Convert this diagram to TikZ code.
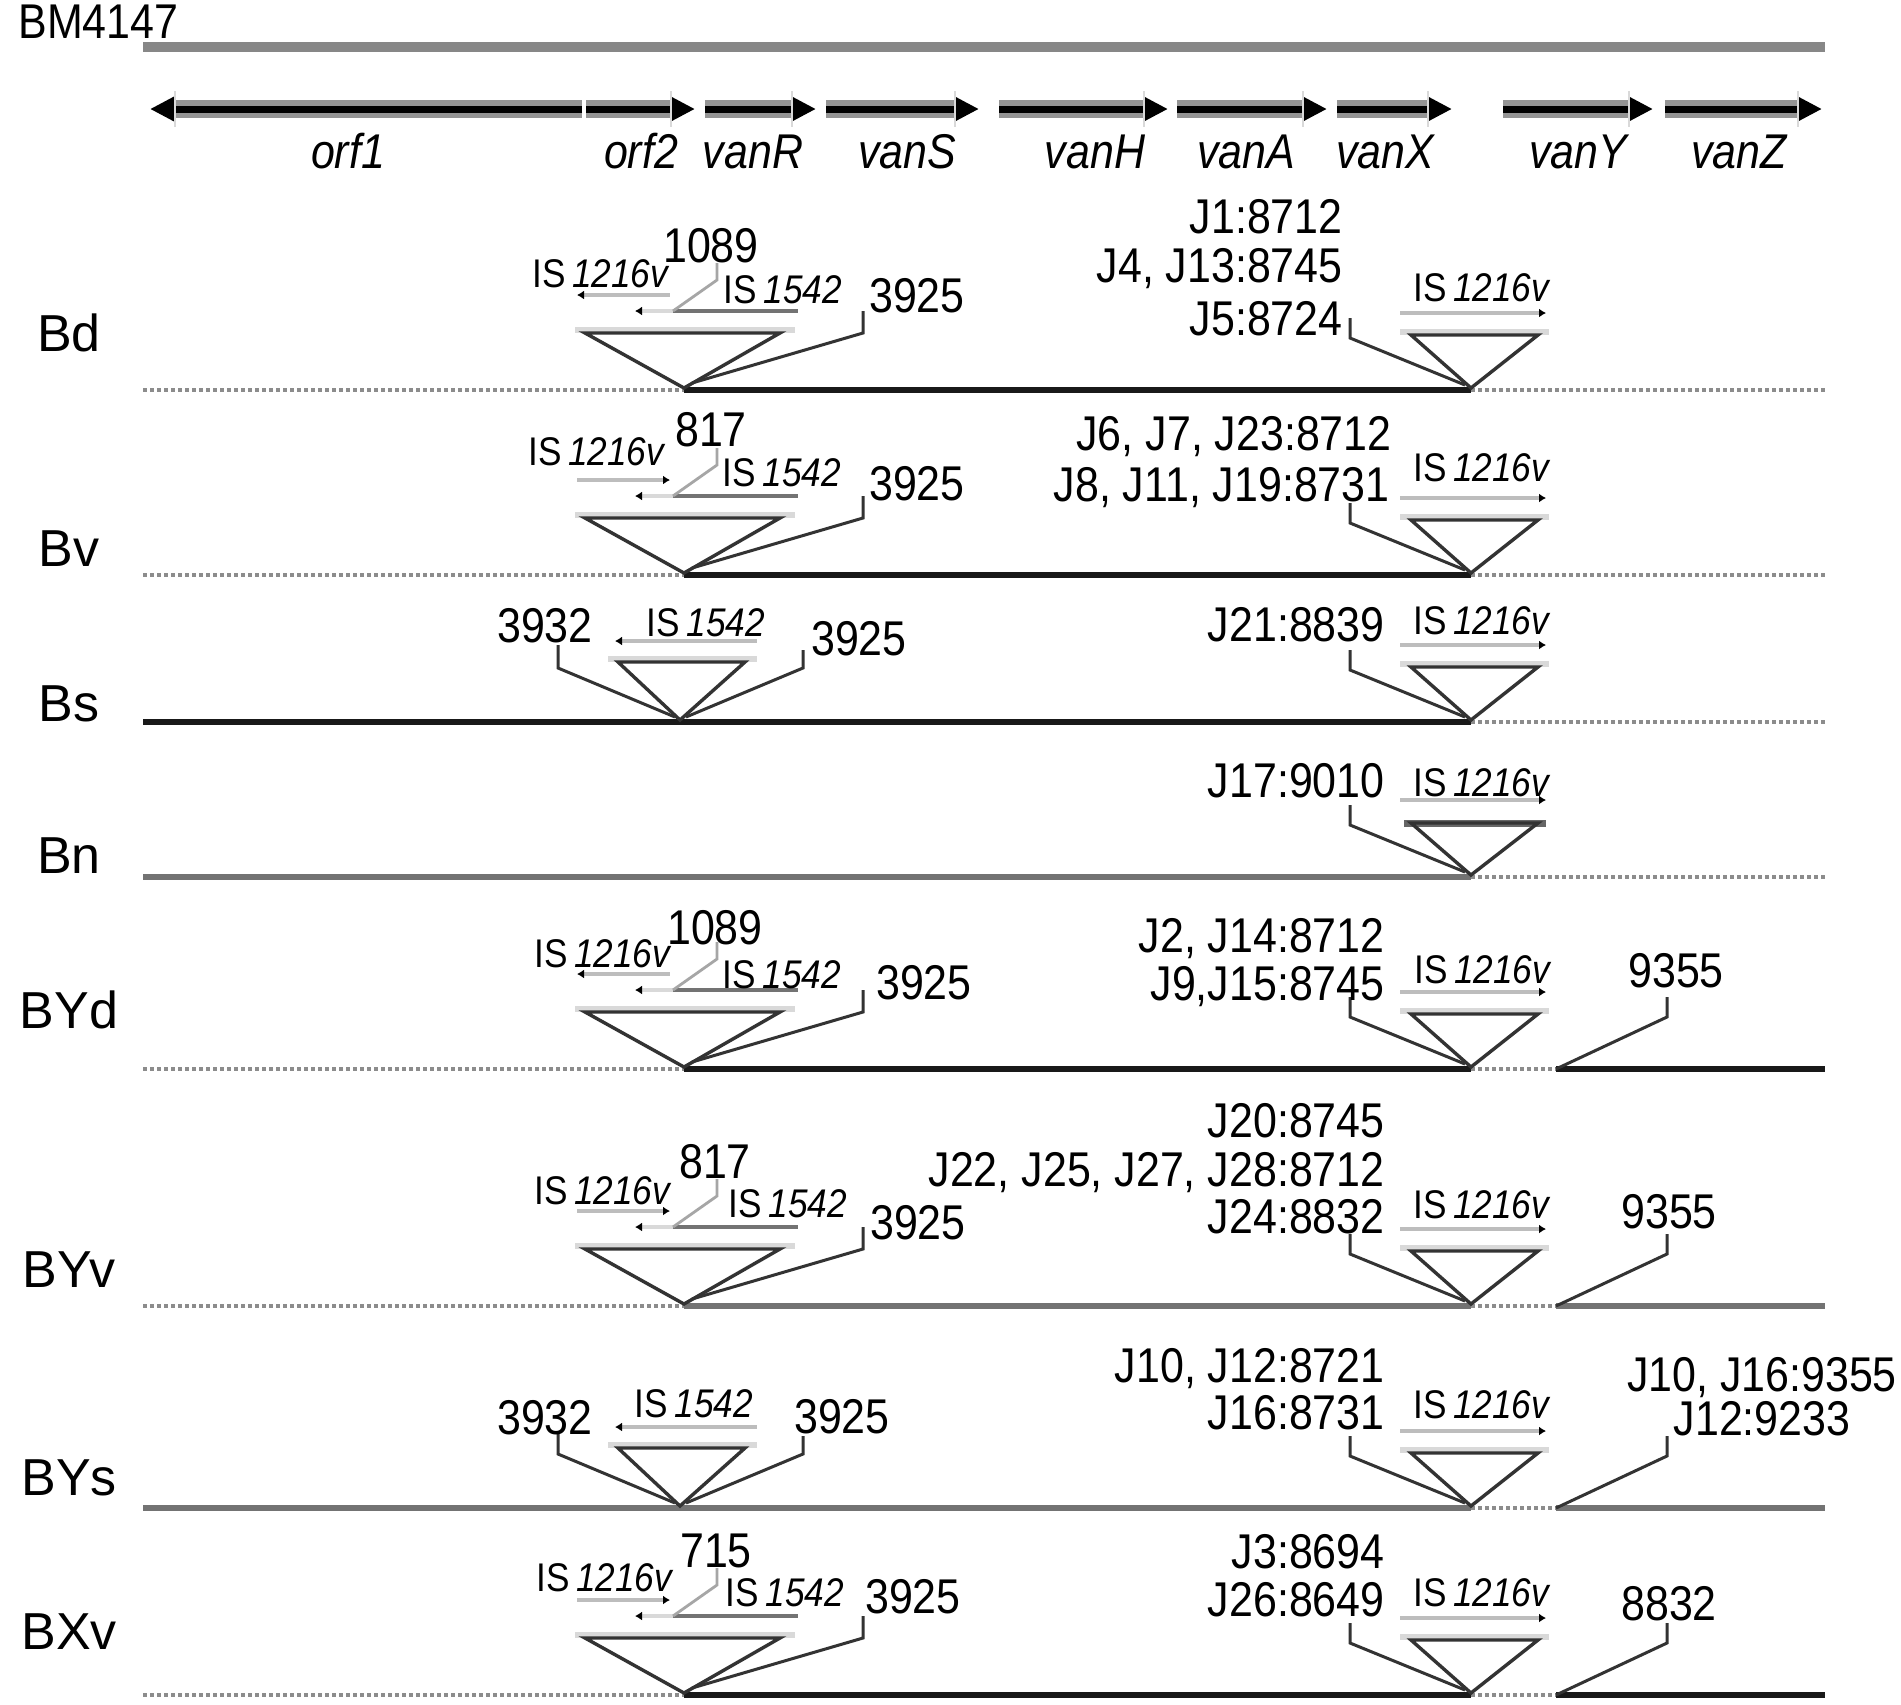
\documentclass[tikz,border=0pt]{standalone}
\usepackage{fontspec}
\setmainfont{Liberation Sans}[FakeStretch=0.88]
\newfontfamily\rowfont{Liberation Sans}
\usetikzlibrary{arrows.meta}
\definecolor{lgray}{gray}{0.74}
\definecolor{mgray}{gray}{0.45}
\definecolor{dgray}{gray}{0.2}
\definecolor{bargray}{gray}{0.53}
\tikzset{
  txt/.style={inner sep=0pt, anchor=base, font=\fontsize{24.4}{28}\selectfont},
  txtr/.style={txt, anchor=base east},
  istxt/.style={inner sep=0pt, anchor=base, font=\fontsize{20}{24}\selectfont},
  rowtxt/.style={inner sep=0pt, anchor=base, font=\rowfont\fontsize{26}{30}\selectfont},
  genetxt/.style={inner sep=0pt, anchor=base, font=\fontsize{24.4}{28}\selectfont\itshape},
  genearrow/.style={line width=3.5pt, black, -{Triangle[length=12.5pt,width=12pt]}},
  genehalo/.style={line width=9pt, black!42},
  genetick/.style={line width=1pt, gray!30},
  tri/.style={draw=dgray, line width=1.7pt, line join=miter},
  triband/.style={line width=3pt, gray!30},
  lead/.style={draw=dgray, line width=1.5pt},
  numlead/.style={draw=black!35, line width=1.4pt},
  isline/.style={line width=2pt, lgray},
  tipL/.style={{Latex[length=3.5pt,width=4.5pt,color=black]}-},
  tipR/.style={-{Latex[length=3.5pt,width=4.5pt,color=black]}},
  solidb/.style={line width=2.6pt, black!90},
  solidg/.style={line width=2.6pt, black!55},
  dots/.style={line width=2.3pt, black!45, dash pattern=on 2pt off 1.5pt},
}
% left insertion, type A: prefix, y0, tip style of IS1216v
\newcommand\leftInsA[3]{%
  \coordinate (#1aL) at (684,#2-2);
  \coordinate (#1nL) at (673,#2-79);
  \draw[isline,#3] (577,#2-95) -- (670,#2-95);
  \draw[line width=2pt, gray!30, tipL] (635,#2-79) -- (#1nL);
  \draw[line width=2pt, mgray] (#1nL) -- (798,#2-79);
  \draw[triband] (575,#2-60) -- (795,#2-60);
  \draw[tri] (585,#2-57) -- (780,#2-57) -- (#1aL) -- cycle;
  \draw[numlead] (717,#2-127) -- (717,#2-110) -- (#1nL);
  \draw[lead] (863,#2-79) -- (863,#2-57) -- (692,#2-7);
}
% left insertion, type B
\newcommand\leftInsB[2]{%
  \coordinate (#1aL) at (680,#2-2);
  \draw[isline,tipL] (615,#2-81) -- (757,#2-81);
  \draw[triband] (608,#2-63) -- (757,#2-63);
  \draw[tri] (618,#2-60) -- (745,#2-60) -- (#1aL) -- cycle;
  \draw[lead] (558,#2-77) -- (558,#2-54) -- (675,#2-5);
  \draw[lead] (803,#2-72) -- (803,#2-54) -- (686,#2-5);
}
% right insertion
\newcommand\rightIns[2]{%
  \coordinate (#1aR) at (1471,#2-2);
  \draw[isline,tipR] (1400,#2-77) -- (1546,#2-77);
  \draw[triband] (1400,#2-58) -- (1549,#2-58);
  \draw[tri] (1411,#2-55) -- (1538,#2-55) -- (#1aR) -- cycle;
  \draw[lead] (1350,#2-72) -- (1350,#2-52) -- (1465,#2-5);
}
\newcommand\farLead[2]{%
  \coordinate (#1aF) at (1556,#2);
  \draw[lead] (1667,#2-72) -- (1667,#2-52) -- (#1aF);
}
\begin{document}
\begin{tikzpicture}[x=0.5pt,y=-0.5pt]
\useasboundingbox (0,0) rectangle (1901,1704);
\fill[white] (0,0) rectangle (1901,1704);

% ---------- reference ----------
\node[txt, anchor=base west] (bm) at (18,38) {BM4147};
\draw[line width=5pt, bargray] (143,47) -- (1825,47);

% genes
\draw[genehalo] (176,109) -- (582,109);
\draw[genearrow] (582,109) -- (150,109);
\draw[genetick] (175,91) -- (175,127);
\foreach \a/\b in {586/695, 705/816, 826/979, 999/1168, 1177/1327, 1337/1452, 1503/1653, 1665/1822}{
  \draw[genehalo] (\a,109) -- (\b-24,109);
  \draw[genearrow] (\a,109) -- (\b,109);
  \draw[genetick] (\b-24,91) -- (\b-24,127);
}
\node[genetxt] (gorf1) at (348,168) {orf1};
\node[genetxt] (gorf2) at (641,168) {orf2};
\node[genetxt] (gvanR) at (753,168) {vanR};
\node[genetxt] (gvanS) at (907,168) {vanS};
\node[genetxt] (gvanH) at (1095,168) {vanH};
\node[genetxt] (gvanA) at (1246,168) {vanA};
\node[genetxt] (gvanX) at (1385,168) {vanX};
\node[genetxt] (gvanY) at (1578,168) {vanY};
\node[genetxt] (gvanZ) at (1739,168) {vanZ};

% ---------- baselines ----------
% Bd
\draw[dots] (143,390) -- (684,390);
\draw[solidb] (684,390) -- (1471,390);
\draw[dots] (1471,390) -- (1825,390);
% Bv
\draw[dots] (143,575) -- (684,575);
\draw[solidb] (684,575) -- (1471,575);
\draw[dots] (1471,575) -- (1825,575);
% Bs
\draw[solidb] (143,722) -- (1471,722);
\draw[dots] (1471,722) -- (1825,722);
% Bn
\draw[solidg] (143,877) -- (1471,877);
\draw[dots] (1471,877) -- (1825,877);
% BYd
\draw[dots] (143,1069) -- (684,1069);
\draw[solidb] (684,1069) -- (1471,1069);
\draw[dots] (1471,1069) -- (1556,1069);
\draw[solidb] (1556,1069) -- (1825,1069);
% BYv
\draw[dots] (143,1306) -- (684,1306);
\draw[solidg] (684,1306) -- (1471,1306);
\draw[dots] (1471,1306) -- (1556,1306);
\draw[solidg] (1556,1306) -- (1825,1306);
% BYs
\draw[solidg] (143,1508) -- (1471,1508);
\draw[dots] (1471,1508) -- (1556,1508);
\draw[solidg] (1556,1508) -- (1825,1508);
% BXv
\draw[dots] (143,1695) -- (684,1695);
\draw[solidb] (684,1695) -- (1471,1695);
\draw[dots] (1471,1695) -- (1556,1695);
\draw[solidb] (1556,1695) -- (1825,1695);

% ---------- insertions ----------
\leftInsA{bd}{390}{tipL}
\rightIns{bd}{390}
\leftInsA{bv}{575}{tipR}
\rightIns{bv}{575}
\leftInsB{bs}{722}
\rightIns{bs}{722}
% Bn (thick top)
\coordinate (bnaR) at (1471,875);
\draw[isline,tipR] (1400,800) -- (1546,800);
\draw[line width=3.5pt, black!60] (1404,823) -- (1546,823);
\draw[tri] (1411,823) -- (1538,823) -- (bnaR) -- cycle;
\draw[lead] (1350,805) -- (1350,825) -- (1465,872);
\leftInsA{byd}{1069}{tipL}
\rightIns{byd}{1069}
\farLead{byd}{1069}
\leftInsA{byv}{1306}{tipR}
\rightIns{byv}{1306}
\farLead{byv}{1306}
\leftInsB{bys}{1508}
\rightIns{bys}{1508}
\farLead{bys}{1508}
\leftInsA{bxv}{1695}{tipR}
\rightIns{bxv}{1695}
\farLead{bxv}{1695}

% ---------- row labels ----------
\node[rowtxt] (rBd) at (69,351) {Bd};
\node[rowtxt] (rBv) at (69,566) {Bv};
\node[rowtxt] (rBs) at (69,721) {Bs};
\node[rowtxt] (rBn) at (69,873) {Bn};
\node[rowtxt] (rBYd) at (69,1028) {BYd};
\node[rowtxt] (rBYv) at (69,1287) {BYv};
\node[rowtxt] (rBYs) at (69,1495) {BYs};
\node[rowtxt] (rBXv) at (69,1649) {BXv};

% ---------- Bd labels ----------
\node[istxt] (bdIS1) at (601,287) {IS\,\textit{1216v}};
\node[txt] (bdN) at (711,262) {1089};
\node[istxt] (bdIS2) at (783,303) {IS\,\textit{1542}};
\node[txt] (bdR) at (917,312) {3925};
\node[txtr] (bdJa) at (1343,233) {J1:8712};
\node[txtr] (bdJb) at (1343,282) {J4, J13:8745};
\node[txtr] (bdJc) at (1343,335) {J5:8724};
\node[istxt] (bdIS3) at (1482,301) {IS\,\textit{1216v}};

% ---------- Bv labels ----------
\node[istxt] (bvIS1) at (597,465) {IS\,\textit{1216v}};
\node[txt] (bvN) at (711,446) {817};
\node[istxt] (bvIS2) at (782,486) {IS\,\textit{1542}};
\node[txt] (bvR) at (917,500) {3925};
\node[txtr] (bvJa) at (1392,450) {J6, J7, J23:8712};
\node[txtr] (bvJb) at (1390,501) {J8, J11, J19:8731};
\node[istxt] (bvIS3) at (1482,481) {IS\,\textit{1216v}};

% ---------- Bs labels ----------
\node[txt] (bsL) at (545,642) {3932};
\node[istxt] (bsIS2) at (706,636) {IS\,\textit{1542}};
\node[txt] (bsR) at (859,655) {3925};
\node[txtr] (bsJa) at (1385,641) {J21:8839};
\node[istxt] (bsIS3) at (1482,634) {IS\,\textit{1216v}};

% ---------- Bn labels ----------
\node[txtr] (bnJa) at (1385,797) {J17:9010};
\node[istxt] (bnIS3) at (1482,796) {IS\,\textit{1216v}};

% ---------- BYd labels ----------
\node[istxt] (bydIS1) at (603,967) {IS\,\textit{1216v}};
\node[txt] (bydN) at (715,944) {1089};
\node[istxt] (bydIS2) at (782,988) {IS\,\textit{1542}};
\node[txt] (bydR) at (924,999) {3925};
\node[txtr] (bydJa) at (1385,952) {J2, J14:8712};
\node[txtr] (bydJb) at (1385,1000) {J9,J15:8745};
\node[istxt] (bydIS3) at (1483,983) {IS\,\textit{1216v}};
\node[txt] (bydF) at (1676,987) {9355};

% ---------- BYv labels ----------
\node[istxt] (byvIS1) at (603,1204) {IS\,\textit{1216v}};
\node[txt] (byvN) at (715,1178) {817};
\node[istxt] (byvIS2) at (788,1217) {IS\,\textit{1542}};
\node[txt] (byvR) at (918,1239) {3925};
\node[txtr] (byvJa) at (1385,1137) {J20:8745};
\node[txtr] (byvJb) at (1385,1186) {J22, J25, J27, J28:8712};
\node[txtr] (byvJc) at (1385,1233) {J24:8832};
\node[istxt] (byvIS3) at (1482,1218) {IS\,\textit{1216v}};
\node[txt] (byvF) at (1669,1228) {9355};

% ---------- BYs labels ----------
\node[txt] (bysL) at (545,1434) {3932};
\node[istxt] (bysIS2) at (694,1417) {IS\,\textit{1542}};
\node[txt] (bysR) at (842,1433) {3925};
\node[txtr] (bysJa) at (1385,1382) {J10, J12:8721};
\node[txtr] (bysJb) at (1385,1429) {J16:8731};
\node[istxt] (bysIS3) at (1482,1418) {IS\,\textit{1216v}};
\node[txt] (bysFa) at (1762,1391) {J10, J16:9355};
\node[txt] (bysFb) at (1762,1435) {J12:9233};

% ---------- BXv labels ----------
\node[istxt] (bxvIS1) at (605,1591) {IS\,\textit{1216v}};
\node[txt] (bxvN) at (716,1567) {715};
\node[istxt] (bxvIS2) at (785,1606) {IS\,\textit{1542}};
\node[txt] (bxvR) at (913,1613) {3925};
\node[txtr] (bxvJa) at (1385,1568) {J3:8694};
\node[txtr] (bxvJb) at (1385,1616) {J26:8649};
\node[istxt] (bxvIS3) at (1482,1606) {IS\,\textit{1216v}};
\node[txt] (bxvF) at (1669,1620) {8832};
\end{tikzpicture}
\end{document}
